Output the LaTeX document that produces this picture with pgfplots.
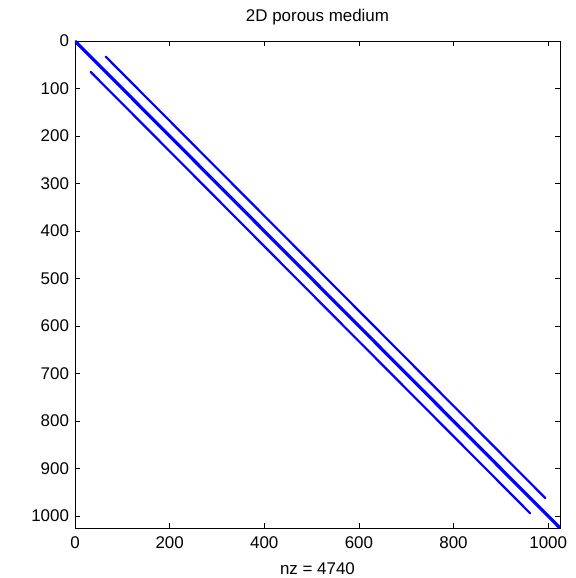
\documentclass[border=0pt]{standalone}
\usepackage{pgfplots}
\pgfplotsset{compat=1.18}
\usepackage{fontspec}
\setmainfont{Liberation Sans}
\definecolor{spyblue}{RGB}{0,0,255}
\begin{document}
\begin{tikzpicture}
\useasboundingbox (-75bp,-50bp) rectangle (501bp,528bp);
\begin{axis}[
  at={(0,0)}, anchor=south west,
  scale only axis,
  width=485bp, height=487bp,
  xmin=0, xmax=1025, ymin=0, ymax=1025,
  y dir=reverse,
  xtick={0,200,...,1000},
  ytick={0,100,...,1000},
  tick align=inside,
  major tick length=5bp,
  axis line style={line width=0.8bp},
  tick style={line width=0.6bp, black},
  /pgf/number format/assume math mode=true,
  /pgf/number format/1000 sep={},
  tick label style={font=\fontsize{17}{20}\selectfont},
  xticklabel style={yshift=-5bp},
  yticklabel style={xshift=-2.5bp},
  title={2D porous medium},
  title style={font=\fontsize{17}{20}\selectfont, at={(0.5,1)}, anchor=base, yshift=14bp},
  xlabel={nz = 4740},
  xlabel style={font=\fontsize{17}{20}\selectfont, at={(0.5,0)}, anchor=base, yshift=-46bp},
  clip=true,
]
% main diagonal (tridiagonal block)
\addplot[spyblue, line width=3.2bp, line cap=round] coordinates {(1,1) (1024,1024)};
% upper band (offset +32)
\addplot[spyblue, line width=2.2bp, line cap=round] coordinates {(65,33) (994,962)};
% lower band (offset -32)
\addplot[spyblue, line width=2.2bp, line cap=round] coordinates {(33,65) (962,994)};
\end{axis}
\end{tikzpicture}
\end{document}
